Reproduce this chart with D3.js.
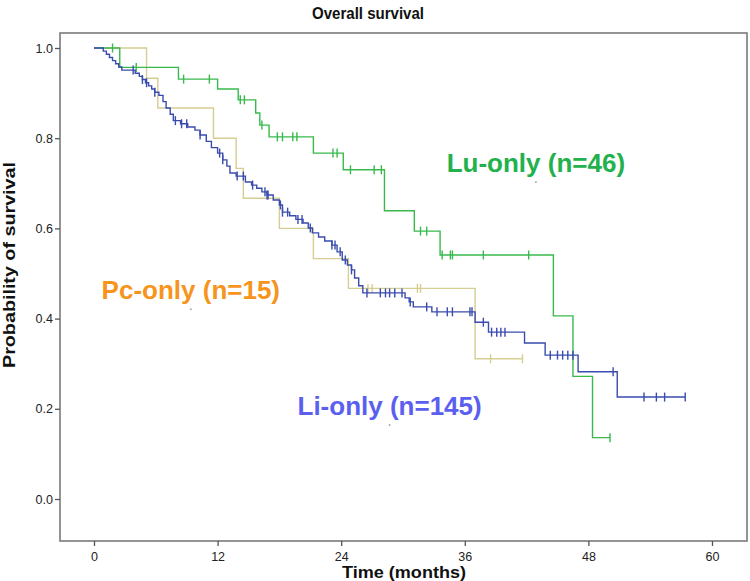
<!DOCTYPE html>
<html><head><meta charset="utf-8">
<script src="https://cdn.jsdelivr.net/npm/d3@7"></script>
<style>
html,body{margin:0;padding:0;background:#fff;}
svg{display:block;}
.nar{font-family:"Liberation Sans Narrow","Arial Narrow","Liberation Sans",Arial,sans-serif;}
.lab{font-family:"Liberation Sans",Arial,sans-serif;font-weight:bold;}
</style></head>
<body>
<script>
// ---- data ----
const xTicks = [0, 12, 24, 36, 48, 60];
const yTicks = [0.0, 0.2, 0.4, 0.6, 0.8, 1.0];

// Lu-only (n=46)
const luTimes = [2.5, 8.2, 12.0, 14.0, 15.7, 16.1, 17.0, 21.3, 24.2, 28.2, 31.1, 33.6, 44.6, 46.5, 48.4];
const luSurv  = [0.957, 0.931, 0.909, 0.885, 0.856, 0.829, 0.803, 0.767, 0.730, 0.639, 0.594, 0.541, 0.406, 0.272, 0.136];
const luCensor = [1.8, 4.1, 8.7, 11.2, 14.2, 14.6, 16.3, 17.8, 18.3, 19.3, 19.7, 23.2, 23.6, 24.9, 27.2, 27.9, 31.7, 32.3, 33.8, 34.6, 34.8, 37.8, 42.2, 50.1];
const luEnd = 50.1;

// Pc-only (n=15)
const pcTimes = [5.1, 6.2, 11.6, 13.8, 14.5, 18.0, 21.3, 24.7, 37.0];
const pcSurv  = [0.933, 0.867, 0.800, 0.733, 0.667, 0.600, 0.533, 0.467, 0.311];
const pcCensor = [26.6, 27.0, 31.4, 31.7, 38.5, 41.6];
const pcEnd = 41.6;

// Li-only (n=145)
const liTimes = [0.9, 1.2, 1.5, 1.8, 2.1, 2.4, 2.7, 4.0, 4.4, 4.7, 5.0, 5.3, 5.6, 5.9, 6.3, 6.7, 7.0, 7.4, 7.7,
  8.4, 9.1, 9.8, 10.3, 10.9, 11.4, 12.0, 12.5, 12.9, 13.2, 13.8, 14.7, 15.3, 15.8, 16.3, 16.8, 17.4, 18.0, 18.3,
  19.0, 19.6, 20.3, 20.8, 21.2, 21.8, 22.4, 23.1, 23.6, 24.1, 24.6, 25.0, 25.3, 25.7, 26.1, 30.2, 30.6, 31.0,
  32.8, 37.0, 38.3, 41.8, 43.8, 47.0, 50.8];
const liSurv  = [0.993, 0.986, 0.979, 0.972, 0.965, 0.958, 0.951, 0.944, 0.937, 0.930, 0.923, 0.916, 0.909, 0.902, 0.895, 0.881, 0.867, 0.853, 0.839,
  0.832, 0.825, 0.818, 0.807, 0.793, 0.779, 0.767, 0.752, 0.738, 0.723, 0.716, 0.703, 0.696, 0.689, 0.681, 0.674, 0.663, 0.652, 0.636,
  0.628, 0.620, 0.612, 0.601, 0.590, 0.581, 0.572, 0.563, 0.548, 0.530, 0.519, 0.508, 0.490, 0.473, 0.457, 0.446, 0.437, 0.426,
  0.415, 0.392, 0.370, 0.346, 0.319, 0.282, 0.226];
const liCensor = [3.8, 4.7, 5.1, 5.9, 7.9, 8.5, 9.0, 10.3, 12.2, 12.5, 13.9, 14.5, 15.4, 16.6, 16.8, 16.9, 18.1, 18.3, 18.8,
  19.8, 20.2, 21.0, 23.1, 23.4, 23.9, 24.4, 25.0, 26.5, 27.8, 28.3, 28.7, 29.2, 29.9, 30.7, 32.3, 33.3, 34.3, 34.8,
  36.5, 36.7, 37.8, 38.6, 39.1, 39.5, 39.9, 44.3, 45.0, 45.5, 46.0, 46.5, 50.4, 53.4, 54.6, 55.4, 57.4];
const liEnd = 57.4;

// labels (anchor point of each label)
const groupNames = ["Lu-only (n=46)", "Pc-only (n=15)", "Li-only (n=145)"];
const labelPos = [[42.9, 0.703], [9.4, 0.421], [28.7, 0.164]];

// ---- drawing ----
const W = 750, H = 581;
const svg = d3.select("body").append("svg").attr("width", W).attr("height", H);

const x = d3.scaleLinear().domain([0, 60]).range([94, 712]);
const y = d3.scaleLinear().domain([0, 1]).range([499, 48]);
const frame = {l: 60, r: 747, t: 33, b: 541};

// frame
svg.append("rect").attr("x", frame.l).attr("y", frame.t)
  .attr("width", frame.r - frame.l).attr("height", frame.b - frame.t)
  .attr("fill", "none").attr("stroke", "#7a7a7a").attr("stroke-width", 1.6);

// axes
const yAxis = d3.axisLeft(y).tickValues(yTicks).tickFormat(d3.format(".1f")).tickSize(5).tickPadding(2);
const gy = svg.append("g").attr("transform", `translate(${frame.l},0)`).call(yAxis);
const xAxis = d3.axisBottom(x).tickValues(xTicks).tickFormat(d3.format("d")).tickSize(5).tickPadding(6);
const gx = svg.append("g").attr("transform", `translate(0,${frame.b})`).call(xAxis);
[gx, gy].forEach(g => {
  g.select(".domain").remove();
  g.selectAll(".tick line").attr("stroke", "#555").attr("stroke-width", 1.3);
  g.selectAll(".tick text").attr("class", "nar").attr("font-size", 12.5).attr("fill", "#222");
});

// titles
svg.append("text").attr("class", "nar").attr("x", 368).attr("y", 19).attr("text-anchor", "middle")
  .attr("font-size", 16).attr("font-weight", "bold").attr("fill", "#111")
  .attr("textLength", 112).attr("lengthAdjust", "spacingAndGlyphs").text("Overall survival");
svg.append("text").attr("class", "nar").attr("x", 404).attr("y", 578).attr("text-anchor", "middle")
  .attr("font-size", 17).attr("font-weight", "bold").attr("fill", "#111")
  .attr("textLength", 124).attr("lengthAdjust", "spacingAndGlyphs").text("Time (months)");
svg.append("text").attr("class", "nar").attr("transform", "translate(15,265) rotate(-90)")
  .attr("text-anchor", "middle").attr("font-size", 17).attr("font-weight", "bold").attr("fill", "#111")
  .attr("textLength", 206).attr("lengthAdjust", "spacingAndGlyphs")
  .text("Probability of survival");

function stepPts(times, surv, end) {
  const pts = [[0, 1]];
  times.forEach((t, i) => pts.push([t, surv[i]]));
  pts.push([end, surv[surv.length - 1]]);
  return pts;
}
function survAt(times, surv, t) {
  let s = 1;
  for (let i = 0; i < times.length; i++) if (times[i] <= t) s = surv[i];
  return s;
}
const line = d3.line().x(d => x(d[0])).y(d => y(d[1])).curve(d3.curveStepAfter);

const groups = [
  {times: pcTimes, surv: pcSurv, cens: pcCensor, end: pcEnd, color: "#d5cd92"},
  {times: luTimes, surv: luSurv, cens: luCensor, end: luEnd, color: "#39b94c"},
  {times: liTimes, surv: liSurv, cens: liCensor, end: liEnd, color: "#3a4cae"}
];
groups.forEach(g => {
  svg.append("path").datum(stepPts(g.times, g.surv, g.end)).attr("d", line)
    .attr("fill", "none").attr("stroke", g.color).attr("stroke-width", 1.4);
  svg.append("g").selectAll("line").data(g.cens).join("line")
    .attr("x1", d => x(d)).attr("x2", d => x(d))
    .attr("y1", d => y(survAt(g.times, g.surv, d)) - 4.5)
    .attr("y2", d => y(survAt(g.times, g.surv, d)) + 4.5)
    .attr("stroke", g.color).attr("stroke-width", 1.4);
});

// group labels
const labelColors = ["#22b14c", "#f7941d", "#5b5ff0"];
groupNames.forEach((n, i) => {
  const px = x(labelPos[i][0]), py = y(labelPos[i][1]);
  svg.append("circle").attr("cx", px).attr("cy", py).attr("r", 1).attr("fill", "#aaa");
  svg.append("text").attr("class", "lab").attr("x", px).attr("y", py - 10)
    .attr("text-anchor", "middle").attr("font-size", 26).attr("fill", labelColors[i]).text(n);
});
</script>
</body></html>
